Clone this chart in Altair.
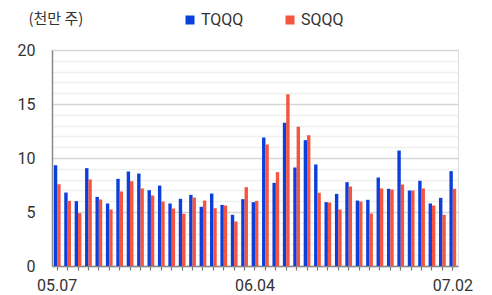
import altair as alt
import pandas as pd

dates = ["05.07","05.08","05.09","05.12","05.13","05.14","05.15","05.16","05.19","05.20",
         "05.21","05.22","05.23","05.27","05.28","05.29","05.30","06.02","06.03","06.04",
         "06.05","06.06","06.09","06.10","06.11","06.12","06.13","06.16","06.17","06.18",
         "06.20","06.23","06.24","06.25","06.26","06.27","06.30","07.01","07.02"]
tqqq = [9.33,6.8,6.0,9.06,6.4,5.79,8.07,8.75,8.56,7.02,
        7.45,5.79,6.22,6.59,5.48,6.71,5.66,4.74,6.19,5.91,
        11.9,7.7,13.26,9.12,11.65,9.4,5.91,6.68,7.76,6.06,
        6.13,8.19,7.15,10.69,6.99,7.89,5.79,6.31,8.78]
sqqq = [7.57,6.03,4.89,8.01,6.16,5.23,6.9,7.85,7.18,6.53,
        5.97,5.32,4.83,6.34,6.06,5.35,5.6,4.12,7.3,6.03,
        11.25,8.69,15.9,12.89,12.11,6.78,5.88,5.23,7.36,5.97,
        4.86,7.18,7.08,7.55,6.99,7.18,5.6,4.74,7.15]
series = ["TQQQ", "SQQQ"]
colors = ["#0A3FDB", "#F5553F"]
shown_labels = ["05.07", "06.04", "07.02"]
y_ticks = list(range(0, 21))

rows = []
for d, a, b in zip(dates, tqqq, sqqq):
    rows.append({"date": d, "series": series[0], "value": a})
    rows.append({"date": d, "series": series[1], "value": b})
df = pd.DataFrame(rows)

label_test = " || ".join([f"datum.label === '{s}'" for s in shown_labels])

chart = alt.Chart(df).mark_bar(size=3.4).encode(
    x=alt.X("date:O", sort=dates,
            scale=alt.Scale(paddingInner=0.36, paddingOuter=0.18),
            axis=alt.Axis(title=None, labelAngle=0, labelExpr=f"({label_test}) ? datum.label : ''",
                          labelFont="Roboto", labelFontSize=16, labelColor="#333333",
                          labelPadding=7, tickSize=4, tickColor="#777777", tickWidth=1.2,
                          domainColor="#888888", domainWidth=1.5, grid=False,
                          labelOverlap=False)),
    xOffset=alt.XOffset("series:N", sort=series, scale=alt.Scale(paddingInner=0, paddingOuter=0)),
    y=alt.Y("value:Q", scale=alt.Scale(domain=[0, 20], nice=False),
            axis=alt.Axis(values=y_ticks, labelExpr="datum.value % 5 === 0 ? datum.label : ''",
                          labelFont="Roboto", labelFontSize=16, labelColor="#333333",
                          labelPadding=17, ticks=False, domainColor="#888888", domainWidth=1.5,
                          grid=True,
                          gridColor={"condition": {"test": "datum.value % 5 === 0", "value": "#d6d6d6"},
                                     "value": "#efefef"},
                          gridWidth=1.5,
                          title="(천만 주)", titleAngle=0, titleAlign="left", titleBaseline="middle",
                          titleX=-24, titleY=-32, titleFont="Noto Sans CJK KR", titleFontSize=15,
                          titleFontWeight="normal", titleColor="#333333")),
    color=alt.Color("series:N", sort=series, scale=alt.Scale(domain=series, range=colors),
                    legend=alt.Legend(title=None, orient="none", legendX=130, legendY=-38,
                                      direction="horizontal", symbolType="square", symbolSize=81,
                                      symbolStrokeWidth=0, labelFont="Roboto", labelFontSize=16,
                                      labelColor="#333333", labelOffset=3, columnPadding=38)),
).properties(
    width=406, height=216,
    autosize=alt.AutoSizeParams(type="none"),
    padding={"left": 44, "top": 42, "right": 26, "bottom": 30},
).configure_view(stroke=None).configure(background="white")

chart.save("out.html", embed_options={"renderer": "svg", "actions": False})
